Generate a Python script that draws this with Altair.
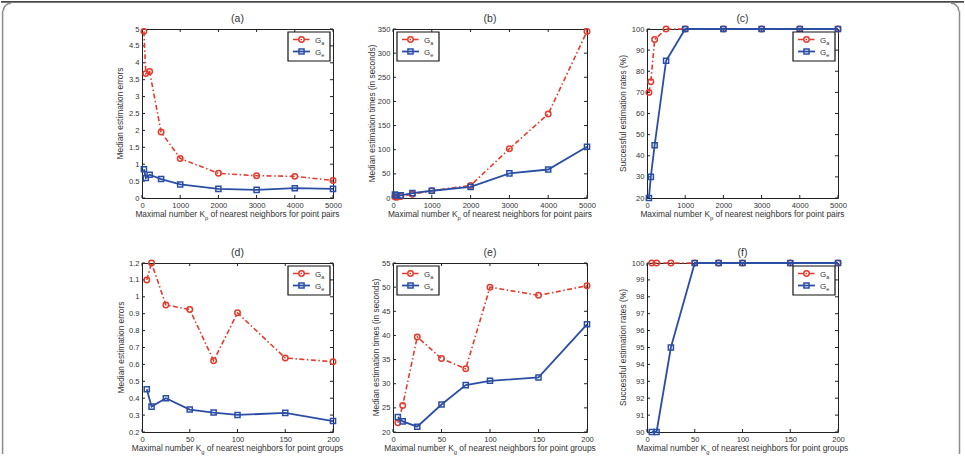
import altair as alt
import pandas as pd

RED = "#e23b2e"
BLUE = "#2b4ea5"
INK = "#333333"
FONT = "Liberation Sans"
DASHDOT = [5, 2.5, 1.5, 2.5]
H = 169

# ---- data -------------------------------------------------------------
K_PAIRS = [50, 100, 200, 500, 1000, 2000, 3000, 4000, 5000]
K_GROUPS = [5, 10, 25, 50, 75, 100, 150, 200]

ERR_PAIRS_GA = [4.93, 3.68, 3.74, 1.95, 1.17, 0.73, 0.66, 0.64, 0.52]
ERR_PAIRS_GE = [0.85, 0.59, 0.69, 0.56, 0.40, 0.27, 0.24, 0.29, 0.27]
TIME_PAIRS_GA = [2, 1.5, 3, 8, 15, 26, 102, 174, 345]
TIME_PAIRS_GE = [7, 5.5, 5.5, 10, 15, 23, 51, 59, 106]
RATE_PAIRS_GA = [70, 75, 95, 100, 100, 100, 100, 100, 100]
RATE_PAIRS_GE = [20, 30, 45, 85, 100, 100, 100, 100, 100]

ERR_GROUPS_GA = [1.10, 1.20, 0.952, 0.925, 0.622, 0.905, 0.638, 0.616]
ERR_GROUPS_GE = [0.453, 0.350, 0.40, 0.333, 0.315, 0.301, 0.313, 0.265]
TIME_GROUPS_GA = [21.9, 25.5, 39.7, 35.2, 33.1, 50.0, 48.3, 50.3]
TIME_GROUPS_GE = [23.1, 22.2, 21.1, 25.7, 29.7, 30.6, 31.3, 42.3]
RATE_GROUPS_GA = [100, 100, 100, 100, 100, 100, 100, 100]
RATE_GROUPS_GE = [90, 90, 95, 100, 100, 100, 100, 100]

X_TICKS_PAIRS = [0, 1000, 2000, 3000, 4000, 5000]
X_TICKS_GROUPS = [0, 50, 100, 150, 200]
Y_TICKS_ERR_PAIRS = [0, 0.5, 1, 1.5, 2, 2.5, 3, 3.5, 4, 4.5, 5]
Y_TICKS_TIME_PAIRS = [0, 50, 100, 150, 200, 250, 300, 350]
Y_TICKS_RATE_PAIRS = [20, 30, 40, 50, 60, 70, 80, 90, 100]
Y_TICKS_ERR_GROUPS = [0.2, 0.3, 0.4, 0.5, 0.6, 0.7, 0.8, 0.9, 1, 1.1, 1.2]
Y_TICKS_TIME_GROUPS = [20, 25, 30, 35, 40, 45, 50, 55]
Y_TICKS_RATE_GROUPS = [90, 91, 92, 93, 94, 95, 96, 97, 98, 99, 100]

ONE = pd.DataFrame({"_": [0]})

# Arial / Liberation Sans advance widths (per 1000 em) for laying out
# the subscripted axis titles
ADV = {"M": 833, "a": 556, "x": 500, "i": 222, "m": 833, "l": 222, " ": 278,
       "n": 556, "u": 556, "b": 556, "e": 556, "r": 333, "K": 667, "o": 556,
       "f": 278, "s": 500, "t": 278, "g": 556, "h": 556, "p": 556, "G": 778}


def text_width(s, size):
    return sum(ADV.get(c, 556) for c in s) * size / 1000.0


def label(s, x, y, size, align="left", baseline="alphabetic", angle=None):
    kw = dict(text=s, font=FONT, fontSize=size, color=INK, align=align, baseline=baseline)
    if angle is not None:
        kw["angle"] = angle
    return alt.Chart(ONE).mark_text(**kw).encode(x=alt.value(x), y=alt.value(y))


def frame_layers(ox, oy):
    """Rounded figure border drawn around the whole canvas."""
    grey = "#8c8c8c"
    return [
        # invisible extent of the canvas
        alt.Chart(ONE).mark_rect(fill="white", opacity=0).encode(
            x=alt.value(ox), x2=alt.value(ox + 963), y=alt.value(oy), y2=alt.value(oy + 455)),
        alt.Chart(ONE).mark_rect(fill="#4a4a4a").encode(
            x=alt.value(ox), x2=alt.value(ox + 963), y=alt.value(oy), y2=alt.value(oy + 1.8)),
        alt.Chart(ONE).mark_rule(color=grey, strokeWidth=1.5).encode(
            x=alt.value(ox + 1.6), y=alt.value(oy + 10), y2=alt.value(oy + 453)),
        alt.Chart(ONE).mark_rule(color=grey, strokeWidth=1.5).encode(
            x=alt.value(ox + 958.5), y=alt.value(oy + 10), y2=alt.value(oy + 453)),
        alt.Chart(ONE).mark_arc(radius=8.5, radius2=7, theta=4.712, theta2=6.283, color=grey).encode(
            x=alt.value(ox + 10), y=alt.value(oy + 10)),
        alt.Chart(ONE).mark_arc(radius=8.5, radius2=7, theta=0, theta2=1.571, color=grey).encode(
            x=alt.value(ox + 950), y=alt.value(oy + 10)),
    ]


def panel(tag, ks, ga, ge, xticks, yticks, ytitle, xsub, xtail, W, ytx, legend_left, frame=False):
    df = pd.DataFrame({"k": ks, "Ga": ga, "Ge": ge})
    xsc = alt.Scale(domain=[xticks[0], xticks[-1]], nice=False, zero=False)
    ysc = alt.Scale(domain=[yticks[0], yticks[-1]], nice=False, zero=False)
    common = dict(title=None, ticks=False, domain=False, grid=False, labelFont=FONT,
                  labelFontSize=7.6, labelColor=INK, labelPadding=3, labelFlush=False,
                  labelOverlap=False)
    xax = alt.Axis(values=xticks, format="d", **common)
    yax = alt.Axis(values=yticks, format=".4~g", **common)
    X = alt.X("k:Q", scale=xsc, axis=xax)

    layers = []
    if frame:
        layers += frame_layers(-141, -28)

    # inward tick marks on all four sides of the box
    xt = alt.Chart(pd.DataFrame({"k": xticks}))
    yt = alt.Chart(pd.DataFrame({"v": yticks}))
    YT = alt.Y("v:Q", scale=ysc, axis=yax)
    tk = dict(color="#222222", strokeWidth=1)
    layers += [
        xt.mark_rule(**tk).encode(x=X, y=alt.value(H), y2=alt.value(H - 3)),
        xt.mark_rule(**tk).encode(x=X, y=alt.value(0), y2=alt.value(3)),
        yt.mark_rule(**tk).encode(y=YT, x=alt.value(0), x2=alt.value(3)),
        yt.mark_rule(**tk).encode(y=YT, x=alt.value(W), x2=alt.value(W - 3)),
    ]

    base = alt.Chart(df)
    YA = alt.Y("Ga:Q", scale=ysc, axis=yax)
    YE = alt.Y("Ge:Q", scale=ysc, axis=yax)
    layers += [
        base.mark_line(color=RED, strokeWidth=1.6, strokeDash=DASHDOT).encode(x=X, y=YA),
        base.mark_point(shape="circle", filled=False, color=RED, size=30, strokeWidth=1.5,
                        opacity=1).encode(x=X, y=YA),
        base.mark_line(color=BLUE, strokeWidth=1.8).encode(x=X, y=YE),
        base.mark_point(shape="square", filled=False, color=BLUE, size=26, strokeWidth=1.5,
                        opacity=1).encode(x=X, y=YE),
    ]

    # legend box
    bx = 4 if legend_left else W - 45
    by = 3
    r1, r2 = by + 7.5, by + 19.5
    layers += [
        alt.Chart(ONE).mark_rect(fill="white", stroke="#111111", strokeWidth=1.2).encode(
            x=alt.value(bx), x2=alt.value(bx + 42), y=alt.value(by), y2=alt.value(by + 29)),
        alt.Chart(ONE).mark_rule(color=RED, strokeWidth=1.6, strokeDash=DASHDOT).encode(
            x=alt.value(bx + 5), x2=alt.value(bx + 22), y=alt.value(r1)),
        alt.Chart(ONE).mark_point(shape="circle", filled=False, color=RED, size=30,
                                  strokeWidth=1.5, opacity=1).encode(
            x=alt.value(bx + 13.5), y=alt.value(r1)),
        alt.Chart(ONE).mark_rule(color=BLUE, strokeWidth=1.8).encode(
            x=alt.value(bx + 5), x2=alt.value(bx + 22), y=alt.value(r2)),
        alt.Chart(ONE).mark_point(shape="square", filled=False, color=BLUE, size=26,
                                  strokeWidth=1.5, opacity=1).encode(
            x=alt.value(bx + 13.5), y=alt.value(r2)),
        label("G", bx + 27, r1 + 3, 8),
        label("a", bx + 33.3, r1 + 5, 5.5),
        label("G", bx + 27, r2 + 3, 8),
        label("e", bx + 33.3, r2 + 5, 5.5),
    ]

    # panel title and axis titles
    f, fs = 8.35, 5.8
    head = "Maximal number K"
    lh = text_width(head, f)
    ls = text_width(xsub, fs)
    gap = text_width(" ", f)
    lt = text_width(xtail, f)
    x0 = W / 2 - (lh + ls + gap + lt) / 2
    layers += [
        label(f"({tag})", W / 2, -10, 10.5, align="center", baseline="middle"),
        label(ytitle, ytx, H / 2, f, align="center", baseline="middle", angle=270),
        label(head, x0, H + 19, f),
        label(xsub, x0 + lh, H + 21.5, fs),
        label(xtail, x0 + lh + ls + gap, H + 19, f),
    ]
    return alt.layer(*layers).properties(width=W, height=H)


PAIRS_TAIL = "of nearest neighbors for point pairs"
GROUPS_TAIL = "of nearest neighbors for point groups"
ERR_T = "Median estimation errors"
TIME_T = "Median estimation times (in seconds)"
RATE_T = "Successful estimation rates (%)"

pa = panel("a", K_PAIRS, ERR_PAIRS_GA, ERR_PAIRS_GE, X_TICKS_PAIRS, Y_TICKS_ERR_PAIRS,
           ERR_T, "p", PAIRS_TAIL, 191, -22.2, False, frame=True)
pb = panel("b", K_PAIRS, TIME_PAIRS_GA, TIME_PAIRS_GE, X_TICKS_PAIRS, Y_TICKS_TIME_PAIRS,
           TIME_T, "p", PAIRS_TAIL, 194, -21.2, True)
pc = panel("c", K_PAIRS, RATE_PAIRS_GA, RATE_PAIRS_GE, X_TICKS_PAIRS, Y_TICKS_RATE_PAIRS,
           RATE_T, "p", PAIRS_TAIL, 191, -24, False)
pd_ = panel("d", K_GROUPS, ERR_GROUPS_GA, ERR_GROUPS_GE, X_TICKS_GROUPS, Y_TICKS_ERR_GROUPS,
            ERR_T, "g", GROUPS_TAIL, 191, -21.3, False)
pe = panel("e", K_GROUPS, TIME_GROUPS_GA, TIME_GROUPS_GE, X_TICKS_GROUPS, Y_TICKS_TIME_GROUPS,
           TIME_T, "g", GROUPS_TAIL, 194, -17.5, True)
pf = panel("f", K_GROUPS, RATE_GROUPS_GA, RATE_GROUPS_GE, X_TICKS_GROUPS, Y_TICKS_RATE_GROUPS,
           RATE_T, "g", GROUPS_TAIL, 191, -24, False)

chart = (
    alt.concat(pa, pb, pc, pd_, pe, pf, columns=3,
               spacing={"row": 65, "column": 60}, bounds="flush")
    .properties(padding=0, background="white")
    .configure_view(stroke="#222222", strokeWidth=1)
)

chart.save("out.html", embed_options={"renderer": "svg", "actions": False})
